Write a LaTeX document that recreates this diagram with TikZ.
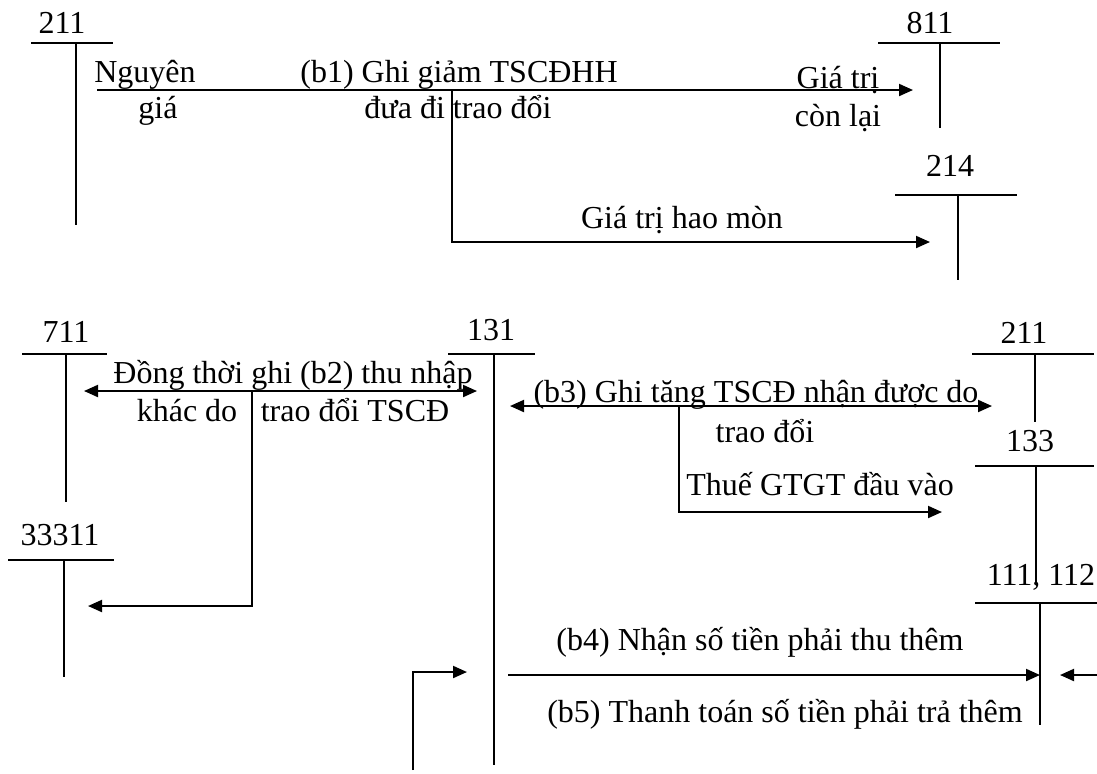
\documentclass[tikz,border=0pt]{standalone}
\usepackage{fontspec}
\setmainfont{Liberation Serif}
\usetikzlibrary{arrows.meta}

\begin{document}
\begin{tikzpicture}[x=0.5pt,y=-0.5pt,
    tacc/.style={line width=0.65pt},
    flow/.style={line width=1pt,-{Triangle[length=7pt,width=6pt]}},
    flowboth/.style={line width=1pt,{Triangle[length=7pt,width=6pt]}-{Triangle[length=7pt,width=6pt]}},
    lbl/.style={inner sep=0pt,anchor=base,font=\fontsize{16}{19}\selectfont}]
    \useasboundingbox (0,0) rectangle (1097,773);
    % T-accounts
    \node[lbl] (a211) at (62,33) {211};
    \draw[tacc] (31,43) -- (113,43) (76,43) -- (76,225);
    \node[lbl] (a811) at (930,33) {811};
    \draw[tacc] (878,43) -- (1000,43) (940,43) -- (940,128);
    \node[lbl] (a214) at (950,176) {214};
    \draw[tacc] (895,195) -- (1017,195) (958,195) -- (958,280);
    \node[lbl] (a711) at (66,342) {711};
    \draw[tacc] (22,354) -- (107,354) (66,354) -- (66,502);
    \node[lbl] (a131) at (491,340) {131};
    \draw[tacc] (448,354) -- (535,354) (494,354) -- (494,765);
    \node[lbl] (b211) at (1024,343) {211};
    \draw[tacc] (972,354) -- (1094,354) (1035,354) -- (1035,422);
    \node[lbl] (a133) at (1030,451) {133};
    \draw[tacc] (975,466) -- (1094,466) (1036,466) -- (1036,583);
    \node[lbl] (a33311) at (60,545) {33311};
    \draw[tacc] (8,560) -- (114,560) (64,560) -- (64,677);
    \node[lbl] (a111) at (1041,585) {111, 112};
    \draw[tacc] (975,603) -- (1097,603) (1040,603) -- (1040,725);

    % b1
    \coordinate (b1s) at (97,90);
    \coordinate (b1e) at (913,90);
    \coordinate (b1k) at (452,90);
    \coordinate (b1m) at (930,242);
    \draw[flow] (b1s) -- (b1e);
    \draw[flow] (b1k) |- (b1m);
    \node[lbl] (ngia) at (145,82) {Nguyên};
    \node[lbl] (gia) at (158,118) {giá};
    \node[lbl] (b1t) at (459,82) {(b1) Ghi giảm TSCĐHH};
    \node[lbl] (b1u) at (458,118) {đưa đi trao đổi};
    \node[lbl] (gtcl) at (838,88) {Giá trị};
    \node[lbl] (gtcl2) at (838,126) {còn lại};
    \node[lbl] (hm) at (682,228) {Giá trị hao mòn};

    % b2
    \coordinate (b2l) at (84,391);
    \coordinate (b2r) at (477,391);
    \coordinate (b2k) at (252,391);
    \coordinate (b2m) at (88,606);
    \draw[flowboth] (b2l) -- (b2r);
    \draw[flow] (b2k) |- (b2m);
    \node[lbl] (b2t) at (293,383) {Đồng thời ghi (b2) thu nhập};
    \node[lbl] (b2u) at (187,421) {khác do};
    \node[lbl] (b2v) at (355,421) {trao đổi TSCĐ};

    % b3
    \coordinate (b3l) at (510,406);
    \coordinate (b3r) at (992,406);
    \coordinate (b3k) at (679,406);
    \coordinate (b3m) at (942,512);
    \draw[flowboth] (b3l) -- (b3r);
    \draw[flow] (b3k) |- (b3m);
    \node[lbl] (b3t) at (756,402) {(b3) Ghi tăng TSCĐ nhận được do};
    \node[lbl] (b3u) at (765,442) {trao đổi};
    \node[lbl] (vat) at (820,495) {Thuế GTGT đầu vào};

    % b4, b5
    \coordinate (b4s) at (508,675);
    \coordinate (b4e) at (1040,675);
    \draw[flow] (b4s) -- (b4e);
    \coordinate (b5s) at (1097,675);
    \coordinate (b5e) at (1060,675);
    \draw[flow] (b5s) -- (b5e);
    \coordinate (b5a) at (413,770);
    \coordinate (b5b) at (467,672);
    \draw[flow] (b5a) |- (b5b);
    \node[lbl] (b4t) at (760,650) {(b4) Nhận số tiền phải thu thêm};
    \node[lbl] (b5t) at (785,722) {(b5) Thanh toán số tiền phải trả thêm};
\end{tikzpicture}
\end{document}
